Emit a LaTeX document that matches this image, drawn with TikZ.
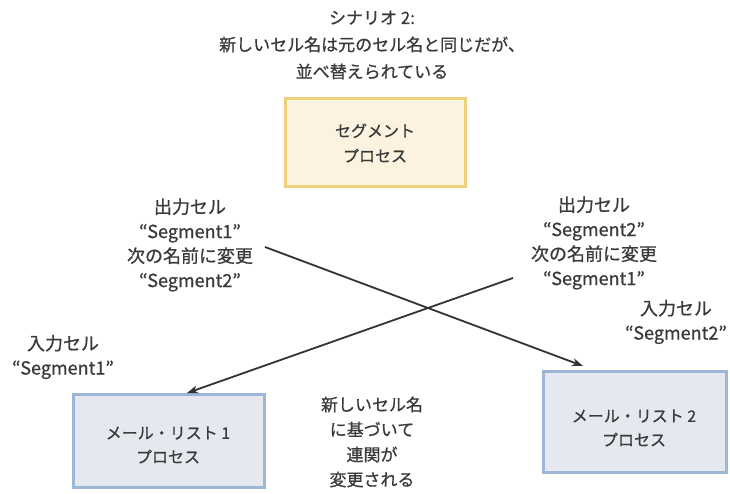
\documentclass[tikz,border=0pt]{standalone}
\usepackage{fontspec}
\setmainfont{Noto Sans CJK JP}[AutoFakeBold=0.7]
\usetikzlibrary{arrows.meta}
\definecolor{txt}{HTML}{3A3A3A}
\definecolor{segfill}{HTML}{FBF3E0}
\definecolor{segdraw}{HTML}{EDCF7E}
\definecolor{mlfill}{HTML}{E5E9EF}
\definecolor{mldraw}{HTML}{9BB6D6}
\definecolor{arr}{HTML}{333333}
\tikzset{
  lbl/.style={text=txt, font=\fontsize{18}{24.5}\selectfont\bfseries, align=center, inner sep=0pt},
  ttl/.style={text=txt, font=\fontsize{17}{27}\selectfont\bfseries, align=center, inner sep=0pt},
  midt/.style={text=txt, font=\fontsize{17}{25}\selectfont\bfseries, align=center, inner sep=0pt},
  segbox/.style={draw=segdraw, fill=segfill, line width=3pt, text=txt,
     font=\fontsize{16}{25}\selectfont\bfseries, align=center},
  mlbox/.style={draw=mldraw, fill=mlfill, line width=3pt, text=txt,
     font=\fontsize{16}{24}\selectfont\bfseries, align=center},
  conn/.style={draw=arr, line width=1.8pt, -{Stealth[length=11pt,width=8pt]}}
}
\begin{document}
\begin{tikzpicture}[x=1pt,y=-1pt]
\useasboundingbox[fill=white] (0,0) rectangle (730,493);
% title
\node[ttl] (title) at (372,45) {シナリオ 2:\\新しいセル名は元のセル名と同じだが、\\並べ替えられている};
% boxes
\path[segbox] (285,98) rectangle (465,186);
\node[segbox, draw=none, fill=none] (seg) at (375,143) {セグメント\\プロセス};
\path[mlbox] (73,394) rectangle (264,487);
\node[mlbox, draw=none, fill=none] (ml1) at (168,445) {メール・リスト 1\\プロセス};
\path[mlbox] (543,371) rectangle (726,472);
\node[mlbox, draw=none, fill=none] (ml2) at (634,428) {メール・リスト 2\\プロセス};
% labels
\node[lbl] (outl) at (190,245) {出力セル\\“Segment1”\\次の名前に変更\\“Segment2”};
\node[lbl] (outr) at (594,243) {出力セル\\“Segment2”\\次の名前に変更\\“Segment1”};
\node[lbl] (inl) at (63,357) {入力セル\\“Segment1”};
\node[lbl] (inr) at (676,322) {入力セル\\“Segment2”};
\node[midt] (mid) at (372,442) {新しいセル名\\に基づいて\\連関が\\変更される};
% connectors
\coordinate (s1) at (265,247);
\coordinate (e1) at (583,366);
\coordinate (s2) at (513,278);
\coordinate (e2) at (187,393);
\draw[conn] (s1) -- (e1);
\draw[conn] (s2) -- (e2);
\end{tikzpicture}
\end{document}
